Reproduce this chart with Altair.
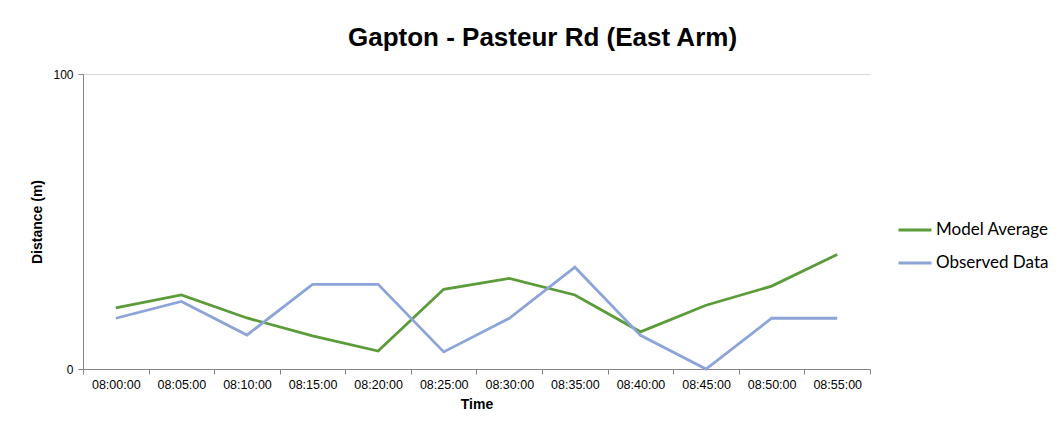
import altair as alt
import pandas as pd

times = ["08:00:00", "08:05:00", "08:10:00", "08:15:00", "08:20:00", "08:25:00",
         "08:30:00", "08:35:00", "08:40:00", "08:45:00", "08:50:00", "08:55:00"]
model_average = [20.7, 25.1, 17.3, 11.2, 6.1, 27.0, 30.7, 25.1, 12.6, 21.6, 28.1, 38.8]
observed_data = [17.2, 22.9, 11.5, 28.7, 28.7, 5.8, 17.2, 34.5, 11.4, 0.0, 17.2, 17.2]
series_names = ["Model Average", "Observed Data"]
series_colors = ["#5B9B3A", "#8DA4D8"]

rows = []
for name, vals in zip(series_names, [model_average, observed_data]):
    for t, v in zip(times, vals):
        rows.append({"Time": t, "Distance": v, "Series": name})
df = pd.DataFrame(rows)

axis_font = "Arial, 'Liberation Sans', sans-serif"

chart = alt.Chart(df).mark_line(strokeWidth=2.8).encode(
    x=alt.X("Time:O", sort=times, bandPosition=0.5,
            scale=alt.Scale(type="band", paddingInner=0, paddingOuter=0),
            axis=alt.Axis(title="Time", labelAngle=0, tickBand="extent",
                          labelFont=axis_font, labelFontSize=12.5, labelColor="#000000",
                          labelPadding=4, tickSize=5, tickColor="#868686",
                          domainColor="#868686", titleFont=axis_font, titleFontSize=14,
                          titleFontWeight="bold", titleColor="#000000", titlePadding=7,
                          grid=False)),
    y=alt.Y("Distance:Q",
            scale=alt.Scale(domain=[0, 100], nice=False),
            axis=alt.Axis(title="Distance (m)", values=[0, 100], grid=True,
                          gridColor="#D9D9D9", labelFont=axis_font, labelFontSize=12,
                          labelColor="#000000", labelPadding=5, tickSize=5,
                          tickColor="#868686", domainColor="#868686",
                          titleFont=axis_font, titleFontSize=14, titleFontWeight="bold",
                          titleColor="#000000", titleX=-46, titleY=147.5, titleAngle=-90,
                          titleAlign="center", titleBaseline="middle")),
    color=alt.Color("Series:N",
                    scale=alt.Scale(domain=series_names, range=series_colors),
                    legend=alt.Legend(title=None, orient="none", legendX=814, legendY=138,
                                      symbolType="stroke", symbolSize=1089,
                                      symbolStrokeWidth=3, labelFont="Lato",
                                      labelFontSize=17, labelColor="#000000",
                                      labelOffset=3, rowPadding=7)),
).properties(
    width=787,
    height=295,
    title=alt.TitleParams("Gapton - Pasteur Rd (East Arm)", font=axis_font,
                          fontSize=26, fontWeight="bold", color="#000000",
                          anchor="middle", dx=66, offset=17),
    autosize=alt.AutoSizeParams(type="none"),
    padding={"left": 75, "top": 66, "right": 180, "bottom": 55},
).configure_view(stroke=None)

chart.save("out.html", embed_options={"renderer": "svg", "actions": False})
